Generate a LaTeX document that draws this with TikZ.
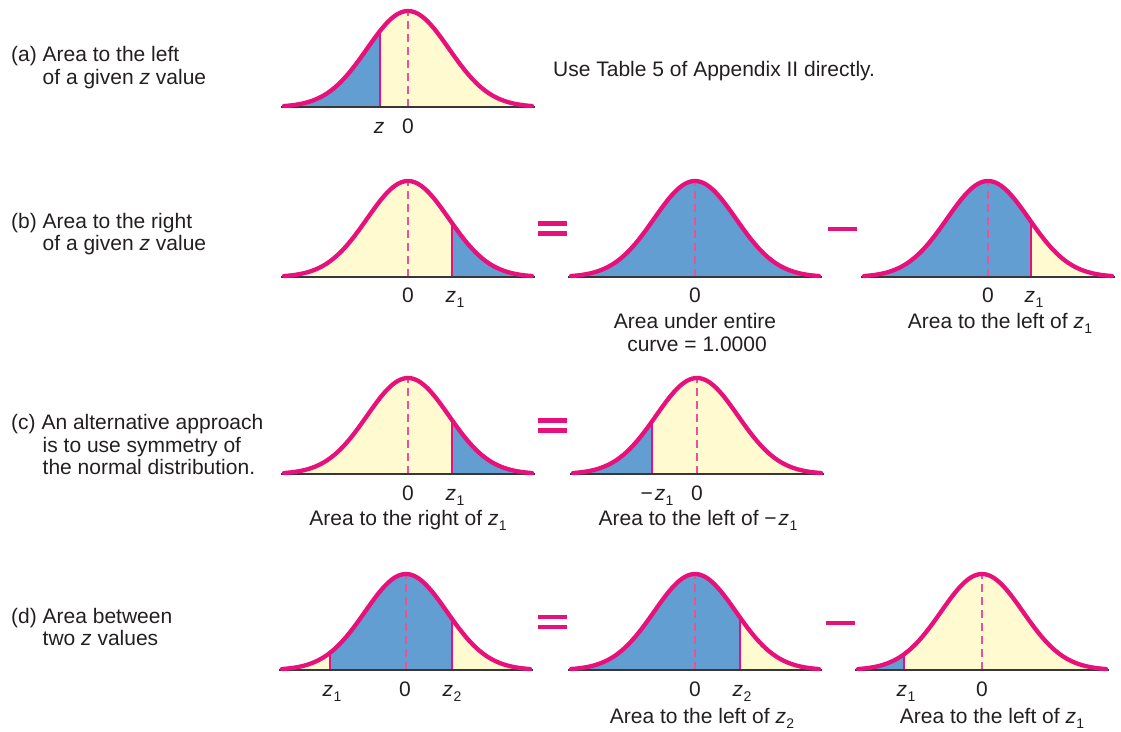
\documentclass[tikz,border=0pt]{standalone}
\usepackage{fontspec}
\setmainfont{Liberation Sans}
\definecolor{pk}{RGB}{232,17,123}
\definecolor{dashpk}{RGB}{238,80,150}
\definecolor{blu}{RGB}{99,158,211}
\definecolor{yel}{RGB}{255,250,208}
\definecolor{txt}{RGB}{35,31,32}
\definecolor{axc}{RGB}{55,55,55}
\newcommand\NormBase[2]{%
  \fill[yelfill] plot[domain=-124:124,samples=90] ({#1+\x},{#2-96*exp(-(\x*\x)/3362)}) -- cycle;}
\newcommand\NormShade[4]{%
  \fill[blufill] ({#1+(#3)},#2) -- plot[domain=#3:#4,samples=60] ({#1+\x},{#2-96*exp(-(\x*\x)/3362)}) -- ({#1+(#4)},#2) -- cycle;}
\newcommand\NormCut[3]{%
  \draw[cutline] ({#1+(#3)},#2) -- ({#1+(#3)},{#2-96*exp(-((#3)*(#3))/3362)});}
\newcommand\NormTop[2]{%
  \draw[dashline] (#1,#2) -- (#1,{#2-95});
  \draw[axisline] ({#1-127},#2) -- ({#1+127},#2);
  \draw[curveline] plot[domain=-124:124,samples=90] ({#1+\x},{#2-96*exp(-(\x*\x)/3362)});}
\newcommand\zs[1]{\textit{z}\kern0.3pt\raisebox{-0.26em}{\fontsize{14}{14}\selectfont #1}}
\begin{document}
\begin{tikzpicture}[x=1pt,y=-1pt,
  yelfill/.style={fill=yel},
  blufill/.style={fill=blu},
  cutline/.style={draw=pk,line width=1.4pt},
  dashline/.style={draw=dashpk,line width=2pt,dash pattern=on 8pt off 5pt},
  axisline/.style={draw=axc,line width=1.8pt},
  curveline/.style={draw=pk,line width=4.3pt,line cap=round},
  signline/.style={draw=pk,line width=4.5pt},
  lbl/.style={anchor=base,inner sep=0pt,text=txt,font=\fontsize{21}{22.5}\selectfont},
  lft/.style={lbl,anchor=base west}]
\useasboundingbox (0,0) rectangle (1121,731);
% ---------- (a)
\NormBase{408}{107}\NormShade{408}{107}{-124}{-28}\NormCut{408}{107}{-28}\NormTop{408}{107}
\node[lft] (a1) at (11,61.5) {(a) Area to the left};
\node[lft] (a2) at (42.5,84) {of a given \textit{z} value};
\node[lbl] (az) at (379,133) {\textit{z}};
\node[lbl] (a0) at (408,133) {0};
\node[lft] (use) at (553,76) {Use Table 5 of Appendix II directly.};
% ---------- (b)
\NormBase{408}{277}\NormShade{408}{277}{44}{124}\NormCut{408}{277}{44}\NormTop{408}{277}
\NormBase{695}{277}\NormShade{695}{277}{-124}{124}\NormTop{695}{277}
\NormBase{988}{277}\NormShade{988}{277}{-124}{43}\NormCut{988}{277}{43}\NormTop{988}{277}
\node[lft] (b1) at (11,228) {(b) Area to the right};
\node[lft] (b2) at (42.5,250.5) {of a given \textit{z} value};
\node[lbl] (b10) at (408,302) {0};
\node[lbl] (b1z) at (455,302) {\zs{1}};
\node[lbl] (b20) at (695,302) {0};
\node[lbl] (b2c1) at (695,328) {Area under entire};
\node[lbl] (b2c2) at (697,351) {curve = 1.0000};
\node[lbl] (b30) at (988,302) {0};
\node[lbl] (b3z) at (1034,302) {\zs{1}};
\node[lbl] (b3c) at (1000,328) {Area to the left of \zs{1}};
\draw[signline] (538,223.5) -- (567,223.5);
\draw[signline] (538,233.5) -- (567,233.5);
\draw[signline] (828,229) -- (857,229);
% ---------- (c)
\NormBase{408}{474}\NormShade{408}{474}{44}{124}\NormCut{408}{474}{44}\NormTop{408}{474}
\NormBase{697}{474}\NormShade{697}{474}{-124}{-45}\NormCut{697}{474}{-45}\NormTop{697}{474}
\node[lft] (c1) at (11,429) {(c) An alternative approach};
\node[lft] (c2) at (42.5,452) {is to use symmetry of};
\node[lft] (c3) at (42.5,474) {the normal distribution.};
\node[lbl] (c10) at (408,500) {0};
\node[lbl] (c1z) at (455,500) {\zs{1}};
\node[lbl] (c1c) at (408,525) {Area to the right of \zs{1}};
\node[lbl] (c2z) at (657,500) {−\kern2pt\zs{1}};
\node[lbl] (c20) at (697,500) {0};
\node[lbl] (c2c) at (698,525) {Area to the left of −\kern2pt\zs{1}};
\draw[signline] (538,420.5) -- (567,420.5);
\draw[signline] (538,430.5) -- (567,430.5);
% ---------- (d)
\NormBase{406}{670}\NormShade{406}{670}{-76}{46}\NormCut{406}{670}{-76}\NormCut{406}{670}{46}\NormTop{406}{670}
\NormBase{695}{670}\NormShade{695}{670}{-124}{45}\NormCut{695}{670}{45}\NormTop{695}{670}
\NormBase{982}{670}\NormShade{982}{670}{-124}{-78}\NormCut{982}{670}{-78}\NormTop{982}{670}
\node[lft] (d1) at (11,623) {(d) Area between};
\node[lft] (d2) at (42.5,645) {two \textit{z} values};
\node[lbl] (d1z1) at (332,696) {\zs{1}};
\node[lbl] (d10) at (405,696) {0};
\node[lbl] (d1z2) at (452,696) {\zs{2}};
\node[lbl] (d20) at (695,696) {0};
\node[lbl] (d2z) at (742,696) {\zs{2}};
\node[lbl] (d2c) at (702,723) {Area to the left of \zs{2}};
\node[lbl] (d3z) at (906,696) {\zs{1}};
\node[lbl] (d30) at (982,696) {0};
\node[lbl] (d3c) at (992,723) {Area to the left of \zs{1}};
\draw[signline] (538,617) -- (567,617);
\draw[signline] (538,627) -- (567,627);
\draw[signline] (826,623) -- (855,623);
\end{tikzpicture}
\end{document}
